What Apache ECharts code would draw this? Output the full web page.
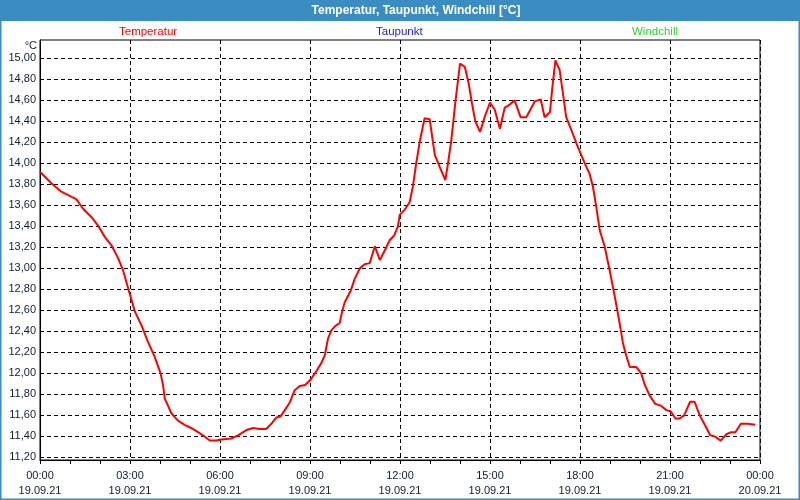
<!DOCTYPE html>
<html>
<head>
<meta charset="utf-8">
<script src="https://cdn.jsdelivr.net/npm/echarts@6/dist/echarts.min.js"></script>
<style>
html,body{margin:0;padding:0;background:#fff;}
#chart{width:800px;height:500px;}
</style>
</head>
<body>
<div id="chart"></div>
<script>
const titleText = 'Temperatur, Taupunkt, Windchill [°C]';
const seriesNames = ['Temperatur', 'Taupunkt', 'Windchill'];
const yTicks = [11.2, 11.4, 11.6, 11.8, 12.0, 12.2, 12.4, 12.6, 12.8, 13.0, 13.2, 13.4, 13.6, 13.8, 14.0, 14.2, 14.4, 14.6, 14.8, 15.0];
const xTickHours = [0, 3, 6, 9, 12, 15, 18, 21, 24];
const hours = [0, 0.38, 0.71, 0.99, 1.21, 1.43, 1.71, 1.93, 2.16, 2.38, 2.6, 2.77, 2.91, 3.04, 3.16, 3.38, 3.6, 3.82, 4.02, 4.1, 4.16, 4.38, 4.6, 4.82, 5.04, 5.27, 5.43, 5.66, 5.88, 6.04, 6.38, 6.6, 6.88, 7.1, 7.32, 7.54, 7.71, 7.88, 8.02, 8.16, 8.32, 8.49, 8.66, 8.84, 9.02, 9.21, 9.38, 9.49, 9.6, 9.71, 9.84, 9.99, 10.07, 10.16, 10.36, 10.49, 10.66, 10.82, 10.99, 11.16, 11.33, 11.49, 11.66, 11.8, 11.93, 11.99, 12.16, 12.32, 12.43, 12.54, 12.66, 12.82, 12.99, 13.16, 13.32, 13.51, 13.6, 13.71, 13.84, 14.0, 14.16, 14.29, 14.4, 14.51, 14.67, 14.82, 15.0, 15.16, 15.33, 15.49, 15.66, 15.82, 16.02, 16.21, 16.49, 16.69, 16.82, 17.0, 17.07, 17.18, 17.32, 17.43, 17.54, 17.71, 17.88, 18.04, 18.16, 18.32, 18.43, 18.54, 18.66, 18.82, 18.99, 19.16, 19.32, 19.43, 19.54, 19.66, 19.88, 20.04, 20.16, 20.32, 20.51, 20.71, 20.88, 21.02, 21.18, 21.32, 21.47, 21.67, 21.82, 21.99, 22.16, 22.34, 22.49, 22.69, 22.88, 23.04, 23.18, 23.36, 23.6, 23.84];
const temperatur = [13.92, 13.81, 13.73, 13.69, 13.66, 13.57, 13.49, 13.41, 13.30, 13.22, 13.10, 12.98, 12.84, 12.71, 12.59, 12.46, 12.30, 12.16, 12.00, 11.89, 11.76, 11.62, 11.55, 11.51, 11.48, 11.44, 11.41, 11.36, 11.36, 11.37, 11.38, 11.41, 11.46, 11.48, 11.47, 11.47, 11.52, 11.58, 11.59, 11.65, 11.72, 11.84, 11.88, 11.89, 11.94, 12.02, 12.10, 12.17, 12.33, 12.41, 12.45, 12.48, 12.59, 12.68, 12.79, 12.90, 13.00, 13.04, 13.05, 13.21, 13.08, 13.17, 13.27, 13.31, 13.40, 13.51, 13.56, 13.63, 13.78, 14.00, 14.21, 14.43, 14.42, 14.08, 13.97, 13.84, 14.00, 14.22, 14.57, 14.95, 14.92, 14.76, 14.57, 14.40, 14.30, 14.44, 14.58, 14.51, 14.33, 14.53, 14.56, 14.60, 14.44, 14.44, 14.59, 14.61, 14.44, 14.49, 14.70, 14.98, 14.89, 14.67, 14.44, 14.32, 14.19, 14.08, 14.00, 13.90, 13.78, 13.59, 13.36, 13.21, 12.98, 12.73, 12.48, 12.29, 12.17, 12.06, 12.06, 12.00, 11.89, 11.79, 11.71, 11.69, 11.65, 11.64, 11.57, 11.57, 11.60, 11.73, 11.73, 11.60, 11.51, 11.41, 11.40, 11.36, 11.42, 11.44, 11.44, 11.52, 11.52, 11.51];
const taupunkt = [];
const windchill = [];

const chart = echarts.init(document.getElementById('chart'), null, {renderer: 'canvas'});
const FONT = '"Liberation Sans", Arial, sans-serif';
const TXT = '#101c34';
const BLUE = '#3c8cc4';

function legendAt(name, left, color) {
  return {
    data: [name], left: left, top: 26, padding: 0, itemWidth: 0, itemHeight: 0, itemGap: 0,
    icon: 'none', selectedMode: false,
    textStyle: {color: color, fontFamily: FONT, fontSize: 11.5, padding: 0}
  };
}

const option = {
  backgroundColor: '#ffffff',
  animation: false,
  graphic: [
    {type: 'rect', shape: {x: 0, y: 0, width: 800, height: 21}, style: {fill: BLUE}, z: 0},
    {type: 'rect', shape: {x: 0.5, y: 0.5, width: 799, height: 499}, style: {fill: null, stroke: BLUE, lineWidth: 2}, z: 0},
    {type: 'text', x: 416, y: 11, style: {text: titleText, fill: '#ffffff', font: 'bold 12px ' + FONT, align: 'center', verticalAlign: 'middle'}, z: 10},
    {type: 'text', x: 37, y: 46, style: {text: '°C', fill: TXT, font: '11px ' + FONT, align: 'right', verticalAlign: 'middle'}, z: 10}
  ],
  legend: [
    legendAt(seriesNames[0], 114, '#ff0000'),
    legendAt(seriesNames[1], 371, '#2020e0'),
    legendAt(seriesNames[2], 627, '#30d030')
  ],
  grid: {left: 40, right: 40, top: 40, bottom: 40, show: true, borderColor: '#000', borderWidth: 1, backgroundColor: '#ffffff'},
  xAxis: {
    type: 'value', min: 0, max: 24, interval: 3,
    axisLine: {show: true, lineStyle: {color: '#000', width: 1}},
    axisTick: {show: true, length: 4, lineStyle: {color: '#000'}},
    minorTick: {show: true, splitNumber: 3, length: 4, lineStyle: {color: '#000'}},
    splitLine: {show: true, lineStyle: {color: '#000', type: [4, 3], width: 1}},
    axisLabel: {
      color: TXT, fontFamily: FONT, fontSize: 11, margin: 8, lineHeight: 15,
      formatter: function (v) {
        const h = Math.round(v);
        if (xTickHours.indexOf(h) < 0) return '';
        const hh = String(h % 24).padStart(2, '0') + ':00';
        return hh + '\n' + (h >= 24 ? '20.09.21' : '19.09.21');
      }
    }
  },
  yAxis: {
    type: 'value', min: 11.175, max: 15.175,
    axisLine: {show: true, lineStyle: {color: '#000', width: 1}},
    axisTick: {show: false, customValues: yTicks},
    splitLine: {show: true, lineStyle: {color: '#000', type: [4, 3], width: 1}},
    axisLabel: {
      customValues: yTicks,
      color: TXT, fontFamily: FONT, fontSize: 11, margin: 4,
      formatter: function (v) { return v.toFixed(2).replace('.', ','); }
    }
  },
  series: [
    {name: seriesNames[0], type: 'line', showSymbol: false, symbol: 'none', color: '#ff0000',
     lineStyle: {color: '#ff0000', width: 2}, data: hours.map((h, i) => [h, temperatur[i]])},
    {name: seriesNames[1], type: 'line', showSymbol: false, symbol: 'none', color: '#2020e0', data: taupunkt},
    {name: seriesNames[2], type: 'line', showSymbol: false, symbol: 'none', color: '#30d030', data: windchill}
  ]
};
chart.setOption(option);
</script>
</body>
</html>
